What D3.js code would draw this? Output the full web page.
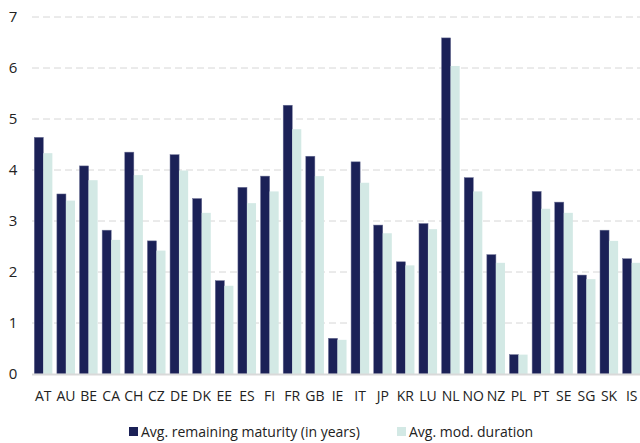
<!DOCTYPE html>
<html>
<head>
<meta charset="utf-8">
<script src="https://cdn.jsdelivr.net/npm/d3@7"></script>
<style>
  body { margin: 0; background: #fff; }
  text { font-family: "Open Sans", "Noto Sans", sans-serif; fill: #222; }
</style>
</head>
<body>
<svg width="640" height="443"></svg>
<script>
// landen en waardes
const countries = ["AT","AU","BE","CA","CH","CZ","DE","DK","EE","ES","FI","FR","GB","IE","IT","JP","KR","LU","NL","NO","NZ","PL","PT","SE","SG","SK","IS"];
const maturity = [4.64,3.53,4.08,2.82,4.35,2.61,4.30,3.44,1.83,3.66,3.88,5.27,4.27,0.70,4.16,2.92,2.20,2.95,6.59,3.85,2.34,0.38,3.58,3.37,1.94,2.82,2.26];
const duration = [4.33,3.40,3.80,2.63,3.90,2.42,3.99,3.16,1.73,3.35,3.58,4.80,3.88,0.67,3.75,2.76,2.13,2.84,6.04,3.58,2.18,0.38,3.24,3.16,1.86,2.61,2.18];
const yTicks = [0,1,2,3,4,5,6,7];
const seriesNames = ["Avg. remaining maturity (in years)", "Avg. mod. duration"];
const colors = ["#1b2157", "#d3e9e5"];

let svg = d3.select("svg"),
    margin = {left: 32, right: -3, top: 17, bottom: 69},
    width = 640 - margin.left - margin.right,
    height = 443 - margin.top - margin.bottom;

let x = d3.scaleBand().domain(countries).range([margin.left, margin.left + width]).paddingInner(0.2).paddingOuter(0.1);
let x1 = d3.scaleBand().domain([0, 1]).range([0, x.bandwidth()]);
let y = d3.scaleLinear().domain([0, 7]).range([margin.top + height, margin.top]);

// gestippelde rasterlijnen
svg.append("g")
    .selectAll("line")
    .data(yTicks.slice(1))
    .enter().append("line")
    .attr("x1", margin.left).attr("x2", 640)
    .attr("y1", d => y(d)).attr("y2", d => y(d))
    .attr("stroke", "#d6d6d6")
    .attr("stroke-dasharray", "7,4");

// y-as labels
svg.append("g")
    .selectAll("text")
    .data(yTicks)
    .enter().append("text")
    .attr("x", 13)
    .attr("y", d => y(d))
    .attr("dy", "0.35em")
    .attr("text-anchor", "middle")
    .style("font-size", "15px")
    .text(d => d);

// staven
let groups = svg.append("g")
    .selectAll("g")
    .data(countries)
    .enter().append("g")
    .attr("transform", d => "translate(" + x(d) + ",0)");

groups.selectAll("rect")
    .data((d, i) => [maturity[i], duration[i]])
    .enter().append("rect")
    .attr("x", (d, j) => x1(j))
    .attr("width", x1.bandwidth())
    .attr("y", d => y(d))
    .attr("height", d => y(0) - y(d))
    .attr("fill", (d, j) => colors[j])
    .attr("stroke", (d, j) => j === 0 ? "#6a6f94" : "none")
    .attr("stroke-width", 0.5);

// x-as lijn
svg.append("line")
    .attr("x1", margin.left).attr("x2", 640)
    .attr("y1", y(0) + 0.5).attr("y2", y(0) + 0.5)
    .attr("stroke", "#d9d9d9")
    .attr("stroke-width", 2);

// landnamen
svg.append("g")
    .selectAll("text")
    .data(countries)
    .enter().append("text")
    .attr("x", d => x(d) + x.bandwidth() / 2)
    .attr("y", 401)
    .attr("text-anchor", "middle")
    .style("font-size", "14px")
    .text(d => d);

// legenda
let legend = svg.append("g")
    .selectAll("g")
    .data(seriesNames)
    .enter().append("g")
    .attr("transform", (d, i) => "translate(" + (i === 0 ? 129 : 397) + ",427)");

legend.append("rect")
    .attr("width", 9).attr("height", 9)
    .attr("fill", (d, i) => colors[i]);

legend.append("text")
    .attr("x", 12)
    .attr("y", 9.5)
    .style("font-size", "14px")
    .text(d => d);
</script>
</body>
</html>
